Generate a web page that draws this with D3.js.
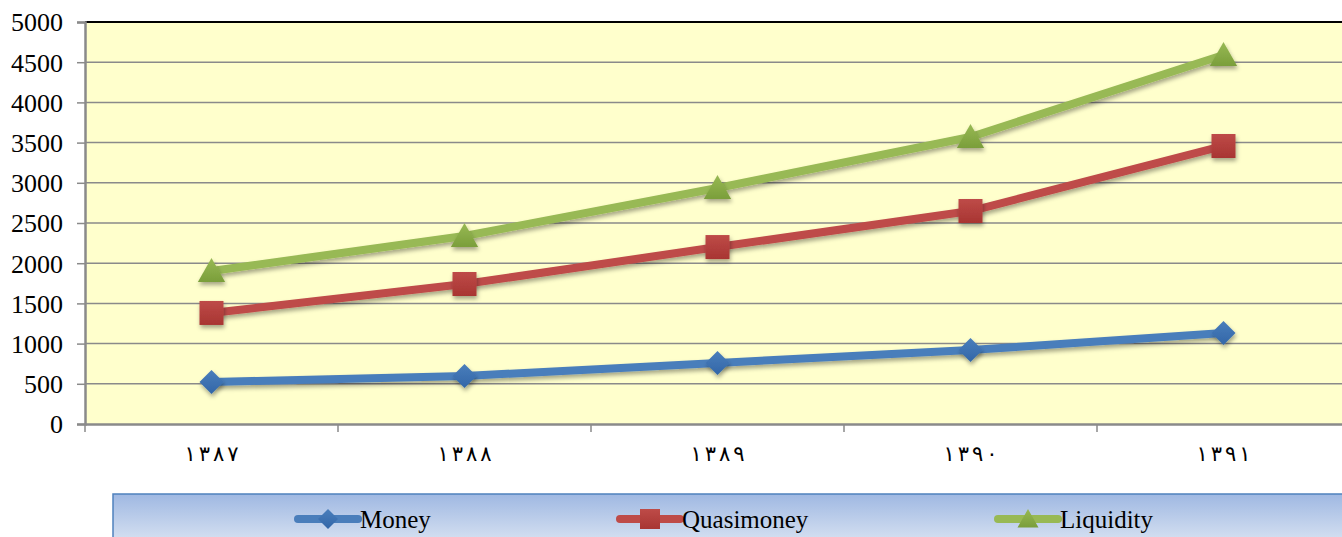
<!DOCTYPE html>
<html>
<head>
<meta charset="utf-8">
<script src="https://cdn.jsdelivr.net/npm/d3@7"></script>
<style>
  body { margin: 0; background: #fff; }
  svg { display: block; }
</style>
</head>
<body>
<div id="chart"></div>
<script>
// data
var years = ["١٣٨٧", "١٣٨٨", "١٣٨٩", "١٣٩٠", "١٣٩١"];
var money = [522, 597, 759, 920, 1132];
var quasimoney = [1381, 1741, 2201, 2649, 3458];
var liquidity = [1903, 2338, 2935, 3570, 4590];
var yTicks = [0, 500, 1000, 1500, 2000, 2500, 3000, 3500, 4000, 4500, 5000];

var series = [
  { name: "Money", values: money, color: "#4a7ebb", dark: "#3266a8", marker: "diamond" },
  { name: "Quasimoney", values: quasimoney, color: "#be4b48", dark: "#a83532", marker: "square" },
  { name: "Liquidity", values: liquidity, color: "#98b954", dark: "#7a9e3a", marker: "triangle" }
];

var svgWidth = 1342;
var svgHeight = 537;

var margin = { top: 22, left: 85, right: -8, bottom: 113 };
var width = svgWidth - margin.left - margin.right;
var height = svgHeight - margin.top - margin.bottom;

var svg = d3.select("#chart")
  .append("svg")
  .attr("width", svgWidth)
  .attr("height", svgHeight);

var defs = svg.append("defs");

var shadow = defs.append("filter")
  .attr("id", "shadow")
  .attr("x", "-50%").attr("y", "-50%")
  .attr("width", "200%").attr("height", "200%");
shadow.append("feDropShadow")
  .attr("dx", 1).attr("dy", 3)
  .attr("stdDeviation", 2)
  .attr("flood-color", "#000")
  .attr("flood-opacity", 0.35);

var legendGrad = defs.append("linearGradient")
  .attr("id", "legendGrad")
  .attr("x1", 0).attr("y1", 0).attr("x2", 0).attr("y2", 1);
legendGrad.append("stop").attr("offset", "0%").attr("stop-color", "#9fb8e2");
legendGrad.append("stop").attr("offset", "100%").attr("stop-color", "#d9e3f2");

var chartGroup = svg.append("g")
  .attr("transform", `translate(${margin.left}, ${margin.top})`);

// scales
var xBand = d3.scaleBand()
  .domain(years)
  .range([0, width])
  .padding(0);

var yLinearScale = d3.scaleLinear()
  .domain([0, 5000])
  .range([height, 0]);

// plot background
chartGroup.append("rect")
  .attr("x", 0)
  .attr("y", 0)
  .attr("width", width)
  .attr("height", height)
  .attr("fill", "#ffffcc");

// gridlines
chartGroup.append("g")
  .selectAll("line")
  .data(yTicks.filter(d => d > 0 && d < 5000))
  .enter()
  .append("line")
  .attr("x1", 0)
  .attr("x2", width)
  .attr("y1", d => yLinearScale(d))
  .attr("y2", d => yLinearScale(d))
  .attr("stroke", "#8a8a8a")
  .attr("stroke-width", 1.5);

// top border
chartGroup.append("line")
  .attr("x1", 0).attr("x2", width)
  .attr("y1", 0).attr("y2", 0)
  .attr("stroke", "#000")
  .attr("stroke-width", 2);

// y axis
var leftAxis = d3.axisLeft(yLinearScale)
  .tickValues(yTicks)
  .tickSize(8)
  .tickPadding(14)
  .tickFormat(d3.format("d"));

var yAxis = chartGroup.append("g").call(leftAxis);
yAxis.select(".domain").attr("stroke", "#8a8a8a").attr("stroke-width", 2.5);
yAxis.selectAll(".tick line").attr("stroke", "#8a8a8a").attr("stroke-width", 1.5);
yAxis.selectAll("text")
  .attr("fill", "#000")
  .style("font-family", "'Liberation Serif', 'Times New Roman', serif")
  .style("font-size", "26px")
  .attr("dy", "0.34em");

// x axis
var bottomAxis = d3.axisBottom(xBand)
  .tickSize(0)
  .tickPadding(22);

var xAxis = chartGroup.append("g")
  .attr("transform", `translate(0, ${height})`)
  .call(bottomAxis);
xAxis.select(".domain").attr("stroke", "#8a8a8a").attr("stroke-width", 2.5);
xAxis.selectAll("text")
  .attr("fill", "#000")
  .attr("textLength", 54)
  .attr("lengthAdjust", "spacing")
  .style("font-family", "'DejaVu Sans', sans-serif")
  .style("font-size", "21px");

// category boundary ticks
xAxis.append("g")
  .selectAll("line")
  .data(years)
  .enter()
  .append("line")
  .attr("x1", d => xBand(d))
  .attr("x2", d => xBand(d))
  .attr("y1", 0)
  .attr("y2", 8)
  .attr("stroke", "#8a8a8a")
  .attr("stroke-width", 1.5);

var cx = d => xBand(d) + xBand.bandwidth() / 2;

function markerPath(type, size) {
  var h = size / 2;
  if (type === "diamond") return `M0,${-h}L${h},0L0,${h}L${-h},0Z`;
  if (type === "square") return `M${-h},${-h}H${h}V${h}H${-h}Z`;
  return `M0,${-h}L${h * 1.05},${h * 0.85}H${-h * 1.05}Z`;
}

var markerSize = { diamond: 24, square: 24, triangle: 26 };

// lines + markers
var line = d3.line()
  .x((d, i) => cx(years[i]))
  .y(d => yLinearScale(d));

series.forEach(function(s) {
  chartGroup.append("path")
    .datum(s.values)
    .attr("d", line)
    .attr("fill", "none")
    .attr("stroke", s.color)
    .attr("stroke-width", 8)
    .attr("stroke-linejoin", "round")
    .attr("filter", "url(#shadow)");

  var grad = defs.append("linearGradient")
    .attr("id", "grad-" + s.marker)
    .attr("x1", 0).attr("y1", 0).attr("x2", 0).attr("y2", 1);
  grad.append("stop").attr("offset", "0%").attr("stop-color", s.color);
  grad.append("stop").attr("offset", "100%").attr("stop-color", s.dark);

  chartGroup.append("g")
    .selectAll("path")
    .data(s.values)
    .enter()
    .append("path")
    .attr("transform", (d, i) => `translate(${cx(years[i])}, ${yLinearScale(d)})`)
    .attr("d", markerPath(s.marker, markerSize[s.marker]))
    .attr("fill", `url(#grad-${s.marker})`)
    .attr("filter", "url(#shadow)");
});

// legend
var legend = svg.append("g");
legend.append("rect")
  .attr("x", 113)
  .attr("y", 494)
  .attr("width", 1240)
  .attr("height", 50)
  .attr("fill", "url(#legendGrad)")
  .attr("stroke", "#4f81bd")
  .attr("stroke-width", 1.5);

var legendX = [298, 620, 998];

series.forEach(function(s, i) {
  var g = legend.append("g")
    .attr("transform", `translate(${legendX[i]}, 519)`);
  g.append("line")
    .attr("x1", 0).attr("x2", 60)
    .attr("y1", 0).attr("y2", 0)
    .attr("stroke", s.color)
    .attr("stroke-width", 8)
    .attr("stroke-linecap", "round");
  g.append("path")
    .attr("transform", "translate(30, 0)")
    .attr("d", markerPath(s.marker, 20))
    .attr("fill", `url(#grad-${s.marker})`);
  g.append("text")
    .attr("x", 62)
    .attr("y", 9)
    .style("font-family", "'Liberation Serif', 'Times New Roman', serif")
    .style("font-size", "25px")
    .text(s.name);
});
</script>
</body>
</html>
